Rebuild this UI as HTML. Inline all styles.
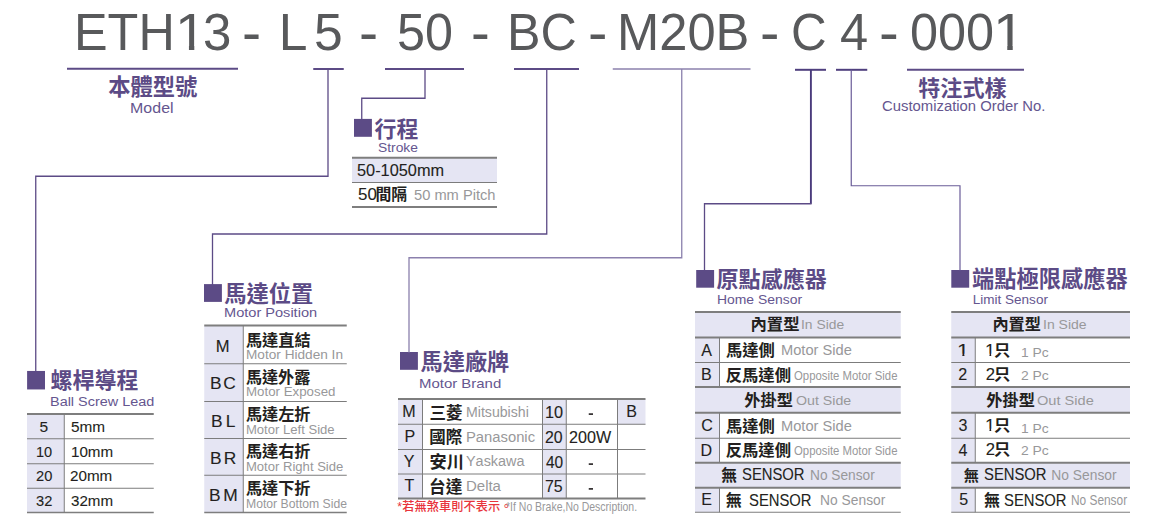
<!DOCTYPE html>
<html lang="zh-Hant"><head><meta charset="utf-8"><title>ETH13 Ordering Code</title>
<style>
html,body{margin:0;padding:0;background:#fff;}
body{width:1156px;height:529px;overflow:hidden;}
#page{position:relative;width:1156px;height:529px;background:#fff;overflow:hidden;font-family:"Liberation Sans",sans-serif;}
#page svg{position:absolute;left:0;top:0;}
.t{position:absolute;white-space:pre;line-height:1;transform-origin:0 0;font-kerning:none;font-family:"Liberation Sans",sans-serif;}
#page svg text{font-family:"Liberation Sans","Noto Sans CJK TC",sans-serif;font-weight:bold;}
</style></head><body>
<div id="page">
<svg width="1156" height="529" viewBox="0 0 1156 529">
<rect x="354.00" y="118.90" width="17.90" height="17.90" fill="#5c4b86"/>
<rect x="204.00" y="284.10" width="17.90" height="17.80" fill="#5c4b86"/>
<rect x="27.10" y="370.95" width="17.90" height="18.50" fill="#5c4b86"/>
<rect x="400.00" y="352.00" width="17.90" height="17.80" fill="#5c4b86"/>
<rect x="696.20" y="270.00" width="17.90" height="17.70" fill="#5c4b86"/>
<rect x="951.30" y="270.00" width="17.90" height="17.70" fill="#5c4b86"/>
<rect x="352.00" y="158.00" width="145.00" height="24.50" fill="#e5e5f3"/>
<rect x="27.00" y="414.00" width="37.25" height="98.50" fill="#e5e5f3"/>
<rect x="204.25" y="325.50" width="39.00" height="187.00" fill="#e5e5f3"/>
<rect x="398.00" y="399.00" width="24.50" height="99.50" fill="#e5e5f3"/>
<rect x="542.50" y="399.00" width="23.75" height="99.50" fill="#e5e5f3"/>
<rect x="617.50" y="399.00" width="28.00" height="25.25" fill="#e5e5f3"/>
<rect x="695.00" y="312.00" width="205.75" height="25.50" fill="#e5e5f3"/>
<rect x="695.00" y="387.00" width="205.75" height="25.75" fill="#e5e5f3"/>
<rect x="695.00" y="462.75" width="205.75" height="25.00" fill="#e5e5f3"/>
<rect x="695.00" y="337.50" width="24.50" height="25.00" fill="#e5e5f3"/>
<rect x="695.00" y="362.50" width="24.50" height="24.50" fill="#e5e5f3"/>
<rect x="695.00" y="412.75" width="24.50" height="25.50" fill="#e5e5f3"/>
<rect x="695.00" y="438.25" width="24.50" height="24.50" fill="#e5e5f3"/>
<rect x="695.00" y="487.75" width="24.50" height="24.50" fill="#e5e5f3"/>
<rect x="951.25" y="312.00" width="178.75" height="25.50" fill="#e5e5f3"/>
<rect x="951.25" y="387.00" width="178.75" height="25.75" fill="#e5e5f3"/>
<rect x="951.25" y="462.75" width="178.75" height="25.00" fill="#e5e5f3"/>
<rect x="951.25" y="337.50" width="24.00" height="25.00" fill="#e5e5f3"/>
<rect x="951.25" y="362.50" width="24.00" height="24.50" fill="#e5e5f3"/>
<rect x="951.25" y="412.75" width="24.00" height="25.50" fill="#e5e5f3"/>
<rect x="951.25" y="438.25" width="24.00" height="24.50" fill="#e5e5f3"/>
<rect x="951.25" y="487.75" width="24.00" height="24.50" fill="#e5e5f3"/>
<path d="M67.00 68.75 L238.00 68.75" stroke="#5c4b86" stroke-width="2.00" fill="none"/>
<path d="M313.25 69.00 L343.75 69.00" stroke="#5c4b86" stroke-width="2.00" fill="none"/>
<path d="M385.00 69.00 L464.00 69.00" stroke="#5c4b86" stroke-width="2.00" fill="none"/>
<path d="M514.00 69.00 L579.00 69.00" stroke="#5c4b86" stroke-width="2.00" fill="none"/>
<path d="M612.75 69.00 L750.50 69.00" stroke="#8b80ad" stroke-width="1.60" fill="none"/>
<path d="M795.00 69.80 L826.00 69.80" stroke="#4f3f7e" stroke-width="2.00" fill="none"/>
<path d="M836.00 69.80 L867.25 69.80" stroke="#4f3f7e" stroke-width="2.00" fill="none"/>
<path d="M907.00 69.75 L1024.00 69.75" stroke="#5c4b86" stroke-width="2.00" fill="none"/>
<path d="M328.00 69.00 L328.00 176.25 L35.75 176.25 L35.75 371.50" stroke="#5c4b86" stroke-width="1.30" fill="none"/>
<path d="M425.00 69.00 L425.00 98.25 L361.75 98.25 L361.75 119.00" stroke="#5c4b86" stroke-width="1.30" fill="none"/>
<path d="M546.75 69.00 L546.75 234.00 L212.50 234.00 L212.50 285.00" stroke="#5c4b86" stroke-width="1.30" fill="none"/>
<path d="M681.75 69.00 L681.75 257.75 L409.00 257.75 L409.00 352.50" stroke="#8b80ad" stroke-width="1.30" fill="none"/>
<path d="M810.90 69.80 L810.90 203.75" stroke="#4a3b7c" stroke-width="1.90" fill="none"/>
<path d="M811.60 203.75 L704.50 203.75 L704.50 270.50" stroke="#5c4b86" stroke-width="1.30" fill="none"/>
<path d="M851.25 69.80 L851.25 185.75 L960.00 185.75 L960.00 270.50" stroke="#6a5c98" stroke-width="1.20" fill="none"/>
<path d="M352.00 157.75 L497.00 157.75" stroke="#7e7e7e" stroke-width="2.00" fill="none"/>
<path d="M352.00 182.50 L497.00 182.50" stroke="#7c7c7c" stroke-width="1.00" fill="none"/>
<path d="M352.00 207.00 L497.00 207.00" stroke="#7e7e7e" stroke-width="2.00" fill="none"/>
<path d="M27.00 414.00 L153.75 414.00" stroke="#7e7e7e" stroke-width="2.00" fill="none"/>
<path d="M27.00 438.75 L153.75 438.75" stroke="#7c7c7c" stroke-width="1.00" fill="none"/>
<path d="M27.00 463.75 L153.75 463.75" stroke="#7c7c7c" stroke-width="1.00" fill="none"/>
<path d="M27.00 488.25 L153.75 488.25" stroke="#7c7c7c" stroke-width="1.00" fill="none"/>
<path d="M27.00 512.50 L153.75 512.50" stroke="#7e7e7e" stroke-width="1.30" fill="none"/>
<path d="M64.25 414.00 L64.25 512.50" stroke="#7c7c7c" stroke-width="1.00" fill="none"/>
<path d="M204.25 325.50 L346.75 325.50" stroke="#7e7e7e" stroke-width="2.00" fill="none"/>
<path d="M204.25 363.75 L346.75 363.75" stroke="#7c7c7c" stroke-width="1.00" fill="none"/>
<path d="M204.25 401.50 L346.75 401.50" stroke="#7c7c7c" stroke-width="1.00" fill="none"/>
<path d="M204.25 438.50 L346.75 438.50" stroke="#7c7c7c" stroke-width="1.00" fill="none"/>
<path d="M204.25 475.25 L346.75 475.25" stroke="#7c7c7c" stroke-width="1.00" fill="none"/>
<path d="M204.25 512.50 L346.75 512.50" stroke="#7e7e7e" stroke-width="1.30" fill="none"/>
<path d="M243.25 325.50 L243.25 512.50" stroke="#7c7c7c" stroke-width="1.00" fill="none"/>
<path d="M398.00 399.00 L645.50 399.00" stroke="#7e7e7e" stroke-width="2.00" fill="none"/>
<path d="M398.00 424.25 L645.50 424.25" stroke="#7c7c7c" stroke-width="1.00" fill="none"/>
<path d="M398.00 449.50 L645.50 449.50" stroke="#7c7c7c" stroke-width="1.00" fill="none"/>
<path d="M398.00 474.00 L645.50 474.00" stroke="#7c7c7c" stroke-width="1.00" fill="none"/>
<path d="M398.00 498.50 L645.50 498.50" stroke="#7e7e7e" stroke-width="2.00" fill="none"/>
<path d="M422.50 399.00 L422.50 498.50" stroke="#7c7c7c" stroke-width="1.00" fill="none"/>
<path d="M542.50 399.00 L542.50 498.50" stroke="#7c7c7c" stroke-width="1.00" fill="none"/>
<path d="M566.25 399.00 L566.25 498.50" stroke="#7c7c7c" stroke-width="1.00" fill="none"/>
<path d="M617.50 399.00 L617.50 498.50" stroke="#7c7c7c" stroke-width="1.00" fill="none"/>
<path d="M588.75 414.10 L593.00 414.10" stroke="#231f20" stroke-width="1.60" fill="none"/>
<path d="M588.75 464.10 L593.00 464.10" stroke="#231f20" stroke-width="1.60" fill="none"/>
<path d="M588.75 488.90 L593.00 488.90" stroke="#231f20" stroke-width="1.60" fill="none"/>
<path d="M695.00 312.00 L900.75 312.00" stroke="#7e7e7e" stroke-width="2.00" fill="none"/>
<path d="M695.00 337.50 L900.75 337.50" stroke="#7e7e7e" stroke-width="2.00" fill="none"/>
<path d="M695.00 362.50 L900.75 362.50" stroke="#7c7c7c" stroke-width="1.00" fill="none"/>
<path d="M695.00 387.00 L900.75 387.00" stroke="#7e7e7e" stroke-width="2.00" fill="none"/>
<path d="M695.00 412.75 L900.75 412.75" stroke="#7e7e7e" stroke-width="2.00" fill="none"/>
<path d="M695.00 438.25 L900.75 438.25" stroke="#7c7c7c" stroke-width="1.00" fill="none"/>
<path d="M695.00 462.75 L900.75 462.75" stroke="#7e7e7e" stroke-width="2.00" fill="none"/>
<path d="M695.00 487.75 L900.75 487.75" stroke="#7e7e7e" stroke-width="2.00" fill="none"/>
<path d="M695.00 512.25 L900.75 512.25" stroke="#7e7e7e" stroke-width="1.20" fill="none"/>
<path d="M719.50 337.50 L719.50 387.00" stroke="#7c7c7c" stroke-width="1.00" fill="none"/>
<path d="M719.50 412.75 L719.50 462.75" stroke="#7c7c7c" stroke-width="1.00" fill="none"/>
<path d="M719.50 487.75 L719.50 512.25" stroke="#7c7c7c" stroke-width="1.00" fill="none"/>
<path d="M951.25 312.00 L1130.00 312.00" stroke="#7e7e7e" stroke-width="2.00" fill="none"/>
<path d="M951.25 337.50 L1130.00 337.50" stroke="#7e7e7e" stroke-width="2.00" fill="none"/>
<path d="M951.25 362.50 L1130.00 362.50" stroke="#7c7c7c" stroke-width="1.00" fill="none"/>
<path d="M951.25 387.00 L1130.00 387.00" stroke="#7e7e7e" stroke-width="2.00" fill="none"/>
<path d="M951.25 412.75 L1130.00 412.75" stroke="#7e7e7e" stroke-width="2.00" fill="none"/>
<path d="M951.25 438.25 L1130.00 438.25" stroke="#7c7c7c" stroke-width="1.00" fill="none"/>
<path d="M951.25 462.75 L1130.00 462.75" stroke="#7e7e7e" stroke-width="2.00" fill="none"/>
<path d="M951.25 487.75 L1130.00 487.75" stroke="#7e7e7e" stroke-width="2.00" fill="none"/>
<path d="M951.25 512.25 L1130.00 512.25" stroke="#7e7e7e" stroke-width="1.20" fill="none"/>
<path d="M975.25 337.50 L975.25 387.00" stroke="#7c7c7c" stroke-width="1.00" fill="none"/>
<path d="M975.25 412.75 L975.25 462.75" stroke="#7c7c7c" stroke-width="1.00" fill="none"/>
<path d="M975.25 487.75 L975.25 512.25" stroke="#7c7c7c" stroke-width="1.00" fill="none"/>
<text x="108.21" y="95.48" font-size="22.3" fill="#5c4b86" textLength="89.2">本體型號</text>
<text x="918.26" y="95.57" font-size="22.08" fill="#5c4b86" textLength="88.3">特注式樣</text>
<text x="374.47" y="136.70" font-size="21.95" fill="#5c4b86" textLength="43.9">行程</text>
<text x="224.29" y="301.62" font-size="22.26" fill="#5c4b86" textLength="89.0">馬達位置</text>
<text x="50.59" y="388.15" font-size="21.95" fill="#5c4b86" textLength="87.8">螺桿導程</text>
<text x="420.59" y="369.90" font-size="22.18" fill="#5c4b86" textLength="88.7">馬達廠牌</text>
<text x="716.54" y="287.33" font-size="22.06" fill="#5c4b86" textLength="110.3">原點感應器</text>
<text x="972.11" y="287.33" font-size="22.21" fill="#5c4b86" textLength="155.5">端點極限感應器</text>
<text x="375.45" y="199.69" font-size="15.88" fill="#231f20" textLength="31.8">間隔</text>
<text x="245.88" y="345.59" font-size="16.2" fill="#231f20" textLength="64.8">馬達直結</text>
<text x="245.88" y="383.08" font-size="16.1" fill="#231f20" textLength="64.4">馬達外露</text>
<text x="245.88" y="420.08" font-size="16.16" fill="#231f20" textLength="64.6">馬達左折</text>
<text x="245.88" y="457.13" font-size="16.16" fill="#231f20" textLength="64.6">馬達右折</text>
<text x="245.88" y="494.11" font-size="16.16" fill="#231f20" textLength="64.6">馬達下折</text>
<text x="429.46" y="418.61" font-size="16.56" fill="#231f20" textLength="33.1">三菱</text>
<text x="429.33" y="443.09" font-size="16.51" fill="#231f20" textLength="33.0">國際</text>
<text x="429.48" y="467.50" font-size="17.21" fill="#231f20" textLength="34.4">安川</text>
<text x="429.02" y="492.61" font-size="16.63" fill="#231f20" textLength="33.3">台達</text>
<text x="397.30" y="510.73" font-size="12.14" fill="#e8343c" style="font-weight:500" textLength="115.1">*若無煞車則不表示。</text>
<text x="750.39" y="329.92" font-size="16.39" fill="#231f20" textLength="49.2">內置型</text>
<text x="725.88" y="355.81" font-size="16.27" fill="#231f20" textLength="48.8">馬達側</text>
<text x="725.66" y="381.08" font-size="16.32" fill="#231f20" textLength="65.3">反馬達側</text>
<text x="744.14" y="405.66" font-size="16.22" fill="#231f20" textLength="48.7">外掛型</text>
<text x="725.88" y="431.56" font-size="16.27" fill="#231f20" textLength="48.8">馬達側</text>
<text x="725.66" y="456.33" font-size="16.32" fill="#231f20" textLength="65.3">反馬達側</text>
<text x="721.37" y="481.10" font-size="15.72" fill="#231f20">無</text>
<text x="725.87" y="505.57" font-size="15.99" fill="#231f20">無</text>
<text x="992.41" y="329.92" font-size="16.21" fill="#231f20" textLength="48.6">內置型</text>
<text x="993.95" y="355.65" font-size="16.34" fill="#231f20">只</text>
<text x="993.95" y="379.91" font-size="16.34" fill="#231f20">只</text>
<text x="986.14" y="405.66" font-size="16.22" fill="#231f20" textLength="48.7">外掛型</text>
<text x="993.95" y="430.65" font-size="16.34" fill="#231f20">只</text>
<text x="993.95" y="455.22" font-size="16.34" fill="#231f20">只</text>
<text x="963.64" y="481.10" font-size="15.19" fill="#231f20">無</text>
<text x="984.12" y="505.57" font-size="15.99" fill="#231f20">無</text>
</svg>
<span class="t" style="left:74.32px;top:7.31px;font-size:51.60px;color:#58595b;transform:scaleX(0.9767);">ETH</span>
<span class="t" style="left:174.84px;top:7.31px;font-size:51.60px;color:#58595b;transform:scaleX(1.0897);clip-path:polygon(0 0,28.70px 0,28.70px 38.21px,17.71px 38.21px,17.71px 59.60px,12.80px 59.60px,12.80px 38.21px,0 38.21px);">1</span>
<span class="t" style="left:203.06px;top:7.31px;font-size:51.60px;color:#58595b;transform:scaleX(0.9892);">3</span>
<span class="t" style="left:242.45px;top:7.31px;font-size:51.60px;color:#58595b;transform-origin:0 43.69px;transform:translateY(1.95px) scale(1.1113,1.1170);">-</span>
<span class="t" style="left:278.77px;top:7.31px;font-size:51.60px;color:#58595b;">L</span>
<span class="t" style="left:313.93px;top:7.31px;font-size:51.60px;color:#58595b;">5</span>
<span class="t" style="left:359.45px;top:7.31px;font-size:51.60px;color:#58595b;transform-origin:0 43.69px;transform:translateY(1.95px) scale(1.1113,1.1170);">-</span>
<span class="t" style="left:396.98px;top:7.31px;font-size:51.60px;color:#58595b;transform:scaleX(0.9754);">50</span>
<span class="t" style="left:470.75px;top:7.31px;font-size:51.60px;color:#58595b;transform-origin:0 43.69px;transform:translateY(1.95px) scale(1.0915,1.1170);">-</span>
<span class="t" style="left:507.38px;top:7.31px;font-size:51.60px;color:#58595b;transform:scaleX(0.9735);">BC</span>
<span class="t" style="left:588.41px;top:7.31px;font-size:51.60px;color:#58595b;transform-origin:0 43.69px;transform:translateY(1.95px) scale(1.1312,1.1170);">-</span>
<span class="t" style="left:617.14px;top:7.31px;font-size:51.60px;color:#58595b;transform:scaleX(0.9825);">M20B</span>
<span class="t" style="left:760.41px;top:7.31px;font-size:51.60px;color:#58595b;transform-origin:0 43.69px;transform:translateY(1.95px) scale(1.1312,1.1170);">-</span>
<span class="t" style="left:791.24px;top:7.31px;font-size:51.60px;color:#58595b;transform:scaleX(0.9563);">C</span>
<span class="t" style="left:840.09px;top:7.31px;font-size:51.60px;color:#58595b;transform:scaleX(0.9807);">4</span>
<span class="t" style="left:878.86px;top:7.31px;font-size:51.60px;color:#58595b;transform-origin:0 43.69px;transform:translateY(1.95px) scale(1.1510,1.1170);">-</span>
<span class="t" style="left:909.78px;top:7.31px;font-size:51.60px;color:#58595b;transform:scaleX(0.9779);">000</span>
<span class="t" style="left:993.42px;top:7.31px;font-size:51.60px;color:#58595b;transform:scaleX(1.1143);clip-path:polygon(0 0,28.70px 0,28.70px 38.21px,17.71px 38.21px,17.71px 59.60px,12.80px 59.60px,12.80px 38.21px,0 38.21px);">1</span>
<span class="t" style="left:130.44px;top:100.94px;font-size:14.24px;color:#65568f;transform:scaleX(1.1200);letter-spacing:0.04px;">Model</span>
<span class="t" style="left:881.75px;top:98.94px;font-size:14.24px;color:#65568f;transform:scaleX(1.0432);">Customization Order No.</span>
<span class="t" style="left:377.62px;top:141.43px;font-size:13.66px;color:#65568f;transform:scaleX(1.0128);">Stroke</span>
<span class="t" style="left:223.50px;top:305.68px;font-size:13.37px;color:#65568f;transform:scaleX(1.0904);">Motor Position</span>
<span class="t" style="left:49.57px;top:395.43px;font-size:13.66px;color:#65568f;transform:scaleX(1.0571);">Ball Screw Lead</span>
<span class="t" style="left:419.37px;top:376.68px;font-size:13.37px;color:#65568f;transform:scaleX(1.1184);">Motor Brand</span>
<span class="t" style="left:716.76px;top:292.55px;font-size:13.52px;color:#65568f;transform:scaleX(1.0294);">Home Sensor</span>
<span class="t" style="left:972.79px;top:292.55px;font-size:13.52px;color:#65568f;">Limit Sensor</span>
<span class="t" style="left:356.85px;top:162.40px;font-size:16.06px;color:#231f20;transform:scaleX(1.0179);-webkit-text-stroke:0.10px #231f20;">50-1050mm</span>
<span class="t" style="left:357.82px;top:186.48px;font-size:17.15px;color:#231f20;transform:scaleX(0.9875);-webkit-text-stroke:0.10px #231f20;">50</span>
<span class="t" style="left:414.41px;top:187.69px;font-size:14.54px;color:#98989a;transform:scaleX(1.0095);">50 mm Pitch</span>
<span class="t" style="left:39.44px;top:418.83px;font-size:15.55px;color:#231f20;-webkit-text-stroke:0.10px #231f20;">5</span>
<span class="t" style="left:70.64px;top:418.83px;font-size:15.55px;color:#231f20;transform:scaleX(0.9875);-webkit-text-stroke:0.10px #231f20;">5mm</span>
<span class="t" style="left:35.64px;top:443.83px;font-size:15.55px;color:#231f20;transform:scaleX(0.9351);-webkit-text-stroke:0.10px #231f20;">10</span>
<span class="t" style="left:70.59px;top:443.83px;font-size:15.55px;color:#231f20;transform:scaleX(0.9756);-webkit-text-stroke:0.10px #231f20;">10mm</span>
<span class="t" style="left:35.51px;top:467.83px;font-size:15.55px;color:#231f20;transform:scaleX(0.9428);-webkit-text-stroke:0.10px #231f20;">20</span>
<span class="t" style="left:70.48px;top:467.83px;font-size:15.55px;color:#231f20;transform:scaleX(0.9782);-webkit-text-stroke:0.10px #231f20;">20mm</span>
<span class="t" style="left:35.69px;top:492.83px;font-size:15.55px;color:#231f20;transform:scaleX(0.9419);-webkit-text-stroke:0.10px #231f20;">32</span>
<span class="t" style="left:70.67px;top:492.83px;font-size:15.55px;color:#231f20;transform:scaleX(0.9737);-webkit-text-stroke:0.10px #231f20;">32mm</span>
<span class="t" style="left:215.72px;top:338.97px;font-size:16.57px;color:#231f20;-webkit-text-stroke:0.10px #231f20;">M</span>
<span class="t" style="left:245.88px;top:347.92px;font-size:13.08px;color:#98989a;transform:scaleX(1.0422);">Motor Hidden In</span>
<span class="t" style="left:209.77px;top:375.97px;font-size:16.57px;color:#231f20;transform:scaleX(1.0500);letter-spacing:1.64px;-webkit-text-stroke:0.10px #231f20;">BC</span>
<span class="t" style="left:245.91px;top:384.92px;font-size:13.08px;color:#98989a;transform:scaleX(1.0167);">Motor Exposed</span>
<span class="t" style="left:210.57px;top:413.97px;font-size:16.57px;color:#231f20;transform:scaleX(1.0500);letter-spacing:3.07px;-webkit-text-stroke:0.10px #231f20;">BL</span>
<span class="t" style="left:245.92px;top:422.92px;font-size:13.08px;color:#98989a;">Motor Left Side</span>
<span class="t" style="left:209.77px;top:450.97px;font-size:16.57px;color:#231f20;transform:scaleX(1.0500);letter-spacing:1.97px;-webkit-text-stroke:0.10px #231f20;">BR</span>
<span class="t" style="left:245.93px;top:459.92px;font-size:13.08px;color:#98989a;">Motor Right Side</span>
<span class="t" style="left:208.87px;top:487.97px;font-size:16.57px;color:#231f20;transform:scaleX(1.0500);letter-spacing:2.63px;-webkit-text-stroke:0.10px #231f20;">BM</span>
<span class="t" style="left:246.00px;top:496.92px;font-size:13.08px;color:#98989a;transform:scaleX(0.9327);">Motor Bottom Side</span>
<span class="t" style="left:402.31px;top:403.40px;font-size:16.06px;color:#231f20;-webkit-text-stroke:0.10px #231f20;">M</span>
<span class="t" style="left:465.59px;top:406.31px;font-size:13.81px;color:#98989a;transform:scaleX(1.0240);">Mitsubishi</span>
<span class="t" style="left:545.01px;top:404.71px;font-size:15.70px;color:#231f20;transform:scaleX(1.0382);-webkit-text-stroke:0.10px #231f20;">10</span>
<span class="t" style="left:404.41px;top:428.40px;font-size:16.06px;color:#231f20;-webkit-text-stroke:0.10px #231f20;">P</span>
<span class="t" style="left:465.54px;top:431.31px;font-size:13.81px;color:#98989a;transform:scaleX(1.0716);">Panasonic</span>
<span class="t" style="left:545.45px;top:429.71px;font-size:15.70px;color:#231f20;transform:scaleX(1.0119);-webkit-text-stroke:0.10px #231f20;">20</span>
<span class="t" style="left:403.64px;top:453.40px;font-size:16.06px;color:#231f20;-webkit-text-stroke:0.10px #231f20;">Y</span>
<span class="t" style="left:466.43px;top:455.31px;font-size:13.81px;color:#98989a;transform:scaleX(1.0453);">Yaskawa</span>
<span class="t" style="left:545.89px;top:454.71px;font-size:15.70px;color:#231f20;transform:scaleX(0.9856);-webkit-text-stroke:0.10px #231f20;">40</span>
<span class="t" style="left:404.47px;top:477.40px;font-size:16.06px;color:#231f20;-webkit-text-stroke:0.10px #231f20;">T</span>
<span class="t" style="left:465.52px;top:480.31px;font-size:13.81px;color:#98989a;transform:scaleX(1.0851);">Delta</span>
<span class="t" style="left:545.43px;top:478.71px;font-size:15.70px;color:#231f20;transform:scaleX(1.0158);-webkit-text-stroke:0.10px #231f20;">75</span>
<span class="t" style="left:569.19px;top:429.71px;font-size:15.70px;color:#231f20;transform:scaleX(1.0270);-webkit-text-stroke:0.10px #231f20;">200W</span>
<span class="t" style="left:626.28px;top:403.40px;font-size:16.06px;color:#231f20;-webkit-text-stroke:0.10px #231f20;">B</span>
<span class="t" style="left:506.08px;top:500.85px;font-size:11.99px;color:#98989a;transform:scaleX(0.8745);">*If No Brake,No Description.</span>
<span class="t" style="left:801.22px;top:317.62px;font-size:13.44px;color:#98989a;transform:scaleX(1.0307);">In Side</span>
<span class="t" style="left:701.27px;top:342.40px;font-size:16.06px;color:#231f20;-webkit-text-stroke:0.10px #231f20;">A</span>
<span class="t" style="left:780.55px;top:344.31px;font-size:13.81px;color:#98989a;transform:scaleX(1.0612);">Motor Side</span>
<span class="t" style="left:701.03px;top:366.40px;font-size:16.06px;color:#231f20;-webkit-text-stroke:0.10px #231f20;">B</span>
<span class="t" style="left:794.46px;top:368.62px;font-size:13.44px;color:#98989a;transform:scaleX(0.8448);">Opposite Motor Side</span>
<span class="t" style="left:796.08px;top:393.62px;font-size:13.44px;color:#98989a;transform:scaleX(1.0571);">Out Side</span>
<span class="t" style="left:701.22px;top:417.40px;font-size:16.06px;color:#231f20;-webkit-text-stroke:0.10px #231f20;">C</span>
<span class="t" style="left:780.55px;top:420.31px;font-size:13.81px;color:#98989a;transform:scaleX(1.0612);">Motor Side</span>
<span class="t" style="left:700.55px;top:442.40px;font-size:16.06px;color:#231f20;-webkit-text-stroke:0.10px #231f20;">D</span>
<span class="t" style="left:794.46px;top:443.62px;font-size:13.44px;color:#98989a;transform:scaleX(0.8448);">Opposite Motor Side</span>
<span class="t" style="left:741.83px;top:466.71px;font-size:15.70px;color:#231f20;transform:scaleX(0.9444);-webkit-text-stroke:0.10px #231f20;">SENSOR</span>
<span class="t" style="left:809.62px;top:469.31px;font-size:13.81px;color:#98989a;transform:scaleX(0.9941);">No Sensor</span>
<span class="t" style="left:701.33px;top:491.40px;font-size:16.06px;color:#231f20;-webkit-text-stroke:0.10px #231f20;">E</span>
<span class="t" style="left:748.83px;top:492.71px;font-size:15.70px;color:#231f20;transform:scaleX(0.9444);-webkit-text-stroke:0.10px #231f20;">SENSOR</span>
<span class="t" style="left:820.12px;top:494.31px;font-size:13.81px;color:#98989a;">No Sensor</span>
<span class="t" style="left:1043.21px;top:317.62px;font-size:13.44px;color:#98989a;transform:scaleX(1.0432);">In Side</span>
<span class="t" style="left:957.23px;top:342.85px;font-size:16.72px;color:#231f20;transform:scaleX(1.2891);clip-path:polygon(0 0,9.30px 0,9.30px 10.90px,5.74px 10.90px,5.74px 24.72px,4.15px 24.72px,4.15px 10.90px,0 10.90px);-webkit-text-stroke:0.10px #231f20;">1</span>
<span class="t" style="left:985.16px;top:342.85px;font-size:16.72px;color:#231f20;transform:scaleX(1.0804);clip-path:polygon(0 0,9.30px 0,9.30px 10.90px,5.74px 10.90px,5.74px 24.72px,4.15px 24.72px,4.15px 10.90px,0 10.90px);-webkit-text-stroke:0.10px #231f20;">1</span>
<span class="t" style="left:1020.95px;top:345.62px;font-size:13.44px;color:#98989a;transform:scaleX(1.0284);">1 Pc</span>
<span class="t" style="left:958.16px;top:366.40px;font-size:16.06px;color:#231f20;-webkit-text-stroke:0.10px #231f20;">2</span>
<span class="t" style="left:985.75px;top:366.85px;font-size:16.72px;color:#231f20;-webkit-text-stroke:0.10px #231f20;">2</span>
<span class="t" style="left:1020.80px;top:368.62px;font-size:13.44px;color:#98989a;transform:scaleX(1.0339);">2 Pc</span>
<span class="t" style="left:1037.06px;top:393.62px;font-size:13.44px;color:#98989a;transform:scaleX(1.0865);">Out Side</span>
<span class="t" style="left:958.46px;top:417.40px;font-size:16.06px;color:#231f20;-webkit-text-stroke:0.10px #231f20;">3</span>
<span class="t" style="left:985.16px;top:417.85px;font-size:16.72px;color:#231f20;transform:scaleX(1.0804);clip-path:polygon(0 0,9.30px 0,9.30px 10.90px,5.74px 10.90px,5.74px 24.72px,4.15px 24.72px,4.15px 10.90px,0 10.90px);-webkit-text-stroke:0.10px #231f20;">1</span>
<span class="t" style="left:1020.95px;top:421.62px;font-size:13.44px;color:#98989a;transform:scaleX(1.0284);">1 Pc</span>
<span class="t" style="left:958.46px;top:442.40px;font-size:16.06px;color:#231f20;-webkit-text-stroke:0.10px #231f20;">4</span>
<span class="t" style="left:985.75px;top:441.85px;font-size:16.72px;color:#231f20;-webkit-text-stroke:0.10px #231f20;">2</span>
<span class="t" style="left:1020.80px;top:443.62px;font-size:13.44px;color:#98989a;transform:scaleX(1.0339);">2 Pc</span>
<span class="t" style="left:983.83px;top:466.71px;font-size:15.70px;color:#231f20;transform:scaleX(0.9444);-webkit-text-stroke:0.10px #231f20;">SENSOR</span>
<span class="t" style="left:1051.37px;top:469.31px;font-size:13.81px;color:#98989a;">No Sensor</span>
<span class="t" style="left:959.17px;top:491.40px;font-size:16.06px;color:#231f20;-webkit-text-stroke:0.10px #231f20;">5</span>
<span class="t" style="left:1003.83px;top:492.71px;font-size:15.70px;color:#231f20;transform:scaleX(0.9444);-webkit-text-stroke:0.10px #231f20;">SENSOR</span>
<span class="t" style="left:1071.02px;top:494.31px;font-size:13.81px;color:#98989a;transform:scaleX(0.8610);">No Sensor</span>
</div>
</body></html>
